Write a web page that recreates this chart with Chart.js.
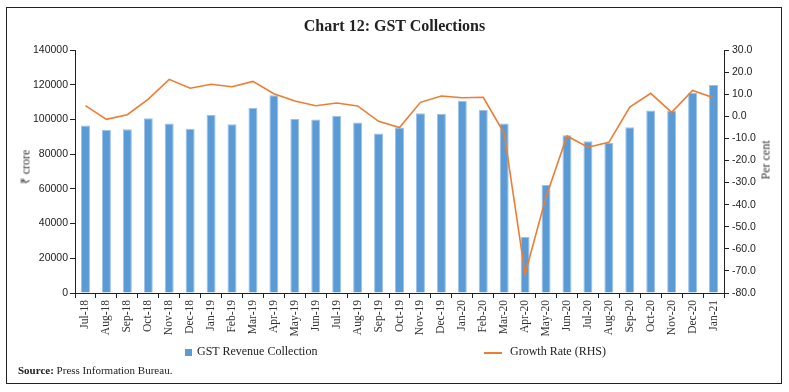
<!DOCTYPE html>
<html>
<head>
<meta charset="utf-8">
<script src="https://cdn.jsdelivr.net/npm/chart.js@4.4.0/dist/chart.umd.min.js"></script>
<style>
    body { margin: 0; background: #fff; }
    #wrap { position: relative; width: 789px; height: 392px; overflow: hidden; }
    #frame { position: absolute; left: 6px; top: 7px; width: 774px; height: 375px; border: 1px solid #222; }
    canvas { position: absolute; left: 0; top: 0; }
    .txt { position: absolute; font-family: "Liberation Serif", serif; color: #222; white-space: nowrap; font-weight: normal; }
    #title { left: 0; width: 789px; top: 17px; text-align: center; font-size: 16px; font-weight: bold; }
    .axis-title { font-size: 12px; transform: translate(-50%, -50%) rotate(-90deg); color: #333; }
    .legend { font-size: 12px; top: 344px; }
    .swatch { position: absolute; }
    #source { left: 18px; top: 364px; font-size: 11px; }
</style>
</head>
<body>
<div id="wrap">
    <div id="frame"></div>
    <canvas id="gstChart" width="789" height="392"></canvas>
    <div id="title" class="txt">Chart 12: GST Collections</div>
    <div class="txt axis-title" style="left:25px; top:167px;">₹ crore</div>
    <div class="txt axis-title" style="left:766px; top:160px;">Per cent</div>
    <div class="swatch" style="left:185px; top:349px; width:7px; height:7px; background:#5B9BD5;"></div>
    <div class="txt legend" style="left:197px;">GST Revenue Collection</div>
    <div class="swatch" style="left:484px; top:352px; width:18px; height:1.5px; background:#ED7D31;"></div>
    <div class="txt legend" style="left:510px;">Growth Rate (RHS)</div>
    <div id="source" class="txt"><b>Source:</b> Press Information Bureau.</div>
</div>
<script>
// ---- data ----
const months = ['Jul-18', 'Aug-18', 'Sep-18', 'Oct-18', 'Nov-18', 'Dec-18', 'Jan-19', 'Feb-19',
    'Mar-19', 'Apr-19', 'May-19', 'Jun-19', 'Jul-19', 'Aug-19', 'Sep-19', 'Oct-19', 'Nov-19',
    'Dec-19', 'Jan-20', 'Feb-20', 'Mar-20', 'Apr-20', 'May-20', 'Jun-20', 'Jul-20', 'Aug-20',
    'Sep-20', 'Oct-20', 'Nov-20', 'Dec-20', 'Jan-21'];

// GST revenue collection, ₹ crore
const gstRevenue = [96500, 94000, 94400, 100700, 97600, 94700, 102500, 97200,
    106600, 113900, 100300, 99900, 102100, 98200, 91900, 95400, 103500,
    103200, 110800, 105400, 97600, 32200, 62200, 90900, 87400, 86400,
    95500, 105200, 105000, 115200, 119800];

// growth rate, per cent (RHS)
const growthRate = [4.8, -1.4, 0.7, 7.8, 16.7, 12.7, 14.5, 13.4,
    15.8, 10.2, 6.9, 4.8, 6.0, 4.7, -2.3, -5.1, 6.3,
    9.2, 8.4, 8.6, -7.7, -71.4, -36.5, -8.9, -14.0, -11.8,
    4.2, 10.4, 1.8, 11.7, 8.4];

const leftTicks = [0, 20000, 40000, 60000, 80000, 100000, 120000, 140000];
const rightTicks = [-80, -70, -60, -50, -40, -30, -20, -10, 0, 10, 20, 30];

const tickFont = { family: '"Liberation Sans", sans-serif', size: 10.5 };
const serifFont = { family: '"Liberation Serif", serif', size: 11.5 };

function axisGrid() {
    return {
        drawOnChartArea: false,
        drawTicks: true,
        tickLength: 5,
        color: '#222',
        lineWidth: 1
    };
}

new Chart(document.getElementById('gstChart'), {
    type: 'bar',
    data: {
        labels: months,
        datasets: [
            {
                type: 'line',
                label: 'Growth Rate (RHS)',
                data: growthRate,
                yAxisID: 'y1',
                borderColor: '#ED7D31',
                borderWidth: 1.6,
                pointRadius: 0,
                tension: 0,
                order: 0
            },
            {
                label: 'GST Revenue Collection',
                data: gstRevenue,
                yAxisID: 'y',
                backgroundColor: '#5B9BD5',
                borderColor: '#9CC2E8',
                borderWidth: 1,
                barPercentage: 0.43,
                categoryPercentage: 1.0,
                order: 1
            }
        ]
    },
    options: {
        responsive: false,
        animation: false,
        layout: { padding: { top: 50, left: 0, right: 0, bottom: 0 } },
        plugins: {
            legend: { display: false },
            tooltip: { enabled: false }
        },
        scales: {
            x: {
                grid: axisGrid(),
                border: { color: '#222', width: 1 },
                ticks: {
                    font: serifFont,
                    color: '#333',
                    minRotation: 90,
                    maxRotation: 90,
                    autoSkip: false,
                    padding: 2
                },
                afterFit: s => { s.height = 99; }
            },
            y: {
                position: 'left',
                min: 0,
                max: 140000,
                grid: axisGrid(),
                border: { color: '#222', width: 1 },
                afterBuildTicks: s => { s.ticks = leftTicks.map(v => ({ value: v })); },
                ticks: {
                    font: tickFont,
                    color: '#222',
                    padding: 2,
                    callback: v => String(v)
                },
                afterFit: s => { s.width = 75; }
            },
            y1: {
                position: 'right',
                min: -80,
                max: 30,
                grid: axisGrid(),
                border: { color: '#222', width: 1 },
                afterBuildTicks: s => { s.ticks = rightTicks.map(v => ({ value: v })); },
                ticks: {
                    font: tickFont,
                    color: '#222',
                    padding: 3,
                    callback: v => Number(v).toFixed(1)
                },
                afterFit: s => { s.width = 65; }
            }
        }
    }
});
</script>
</body>
</html>
